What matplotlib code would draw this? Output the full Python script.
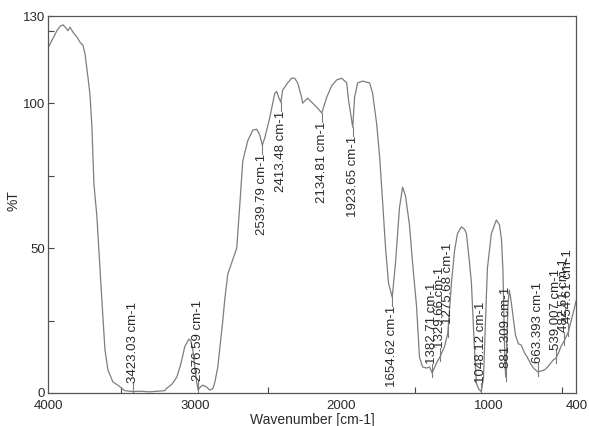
import numpy as np
import matplotlib
matplotlib.use('Agg')
import matplotlib.pyplot as plt

plt.rcParams['font.family'] = ['Liberation Sans', 'DejaVu Sans']

# espectro IR (numero de onda em cm-1, transmitancia em %)
numero_onda = [4000, 3973, 3939, 3918, 3898, 3884, 3864, 3850, 3830, 3803, 3782, 3762,
               3748, 3728, 3714, 3701, 3687, 3667, 3653, 3633, 3612, 3592, 3558, 3524,
               3476, 3423.03, 3374, 3306, 3204, 3190, 3156, 3122, 3095, 3068, 3040, 3027,
               3013, 3000, 2986, 2976.59, 2960, 2945, 2918, 2898, 2877, 2864, 2843, 2830,
               2809, 2796, 2775, 2748, 2727, 2714, 2693, 2673, 2639, 2605, 2578, 2557,
               2539.79, 2523, 2489, 2455, 2442, 2428, 2413.48, 2401, 2367, 2340, 2319,
               2299, 2272, 2265, 2231, 2197, 2163, 2134.81, 2101, 2067, 2033, 1999, 1965,
               1952, 1923.65, 1911, 1890, 1856, 1809, 1788, 1761, 1741, 1720, 1700, 1680,
               1654.62, 1632, 1618, 1605, 1584, 1564, 1537, 1516, 1489, 1469, 1448, 1421,
               1400, 1382.71, 1353, 1329.66, 1298, 1275.68, 1251, 1230, 1210, 1183, 1162,
               1149, 1128, 1115, 1094, 1081, 1067, 1048.12, 1033, 1026, 1006, 979, 945,
               924, 910, 900, 893, 887, 881.309, 875, 866, 857, 848, 835, 815, 795, 775,
               755, 735, 710, 690, 663.393, 640, 615, 595, 575, 555, 539.007, 520, 505,
               482.51, 454.61, 440, 420, 400]
transmitancia = [119, 121.7, 125, 126.5, 127, 126.3, 125, 126.2, 124.5, 122.8, 121, 120,
                 117, 109, 103, 92, 72, 61, 49, 32, 15, 8, 3.8, 2.7,
                 0.8, 0.5, 0.6, 0.4, 0.8, 1.7, 3, 5.5, 10, 16, 18.6, 18,
                 15, 9, 3.5, 1.0, 2.2, 2.7, 2.0, 1.0, 1.5, 3.5, 9, 15,
                 25, 32, 41, 45, 48, 50, 65, 80, 87, 90.7, 91, 89,
                 85.5, 88, 95, 103.4, 104, 102, 100.3, 104.5, 107, 108.6, 108.6,
                 107, 102, 100, 101.7, 100, 98.3, 96.6, 102, 106, 108, 108.6, 107,
                 101, 91.7, 102, 107, 107.6, 107, 103.4, 93, 82, 66, 50, 38,
                 33, 45, 55, 64, 71, 68, 58, 45, 30, 12.4, 9, 8.6,
                 9, 6.9, 10.3, 12.4, 16, 20.7, 38, 49, 55, 57.3, 56.5,
                 55, 45, 38, 15, 3.4, 1.5, 0.5, 5, 15, 43, 55, 59.7,
                 58, 53, 42, 25, 11, 5.5, 15, 30, 35.5, 33, 28, 20, 17, 16.5,
                 14, 12.4, 10, 8.5, 7.3, 7.6, 8, 9, 10.3, 11.5, 12, 14, 16,
                 18, 21, 24, 28, 32]

# picos marcados
picos = [3423.03, 2976.59, 2539.79, 2413.48, 2134.81, 1923.65, 1654.62, 1382.71,
         1329.66, 1275.68, 1048.12, 881.309, 663.393, 539.007, 482.51, 454.61]
rotulos_picos = ['3423.03 cm-1', '2976.59 cm-1', '2539.79 cm-1', '2413.48 cm-1',
                 '2134.81 cm-1', '1923.65 cm-1', '1654.62 cm-1', '1382.71 cm-1',
                 '1329.66 cm-1', '1275.68 cm-1', '1048.12 cm-1', '881.309 cm-1',
                 '663.393 cm-1', '539.007 cm-1', '482.51 cm-1', '454.61 cm-1']

cor_linha = '#7d7d7d'
cor_texto = '#2a2a2a'

fig = plt.figure(figsize=(5.89, 4.26), dpi=100)
ax = fig.add_axes([0.0815, 0.0775, 0.897, 0.8845])

ax.plot(numero_onda, transmitancia, color=cor_linha, linewidth=0.9)

# rotulos dos picos: acima se o pico esta perto do zero, abaixo caso contrario
x_ord = numero_onda[::-1]
y_ord = transmitancia[::-1]
for pico, rotulo in zip(picos, rotulos_picos):
    t = np.interp(pico, x_ord, y_ord)
    if t < 30:
        y_txt = t + 3
        ax.plot([pico, pico], [t - 1.5, y_txt], color=cor_linha, linewidth=0.8)
        ax.text(pico, y_txt, rotulo, rotation=90, ha='center', va='bottom',
                fontsize=9.5, color=cor_texto)
    else:
        y_txt = t - 3
        ax.plot([pico, pico], [t, y_txt], color=cor_linha, linewidth=0.8)
        ax.text(pico, y_txt, rotulo, rotation=90, ha='center', va='top',
                fontsize=9.5, color=cor_texto)

ax.set_xlim(4000, 400)
ax.set_ylim(0, 130)

ax.set_xticks([4000, 3000, 2000, 1000, 400])
ax.set_xticklabels(['4000', '3000', '2000', '1000', '400'])
ax.set_xticks([3500, 2500, 1500, 500], minor=True)
ax.set_yticks([0, 50, 100, 130])
ax.set_yticks([25, 75, 125], minor=True)

ax.tick_params(which='both', direction='in', length=4, width=0.8, color='#444444',
               labelsize=9.5, labelcolor=cor_texto)
ax.tick_params(axis='x', which='both', pad=5)
ax.tick_params(axis='y', which='both', pad=2)
ax.tick_params(axis='x', which='major', length=0)

for spine in ax.spines.values():
    spine.set_color('#555555')
    spine.set_linewidth(0.9)

ax.set_xlabel('Wavenumber [cm-1]', fontsize=10, color=cor_texto, labelpad=1)
fig.text(14 / 589, 0.53, '%T', rotation=90, ha='center', va='center',
         fontsize=10, color=cor_texto)

fig.savefig('out.png', dpi=100)
